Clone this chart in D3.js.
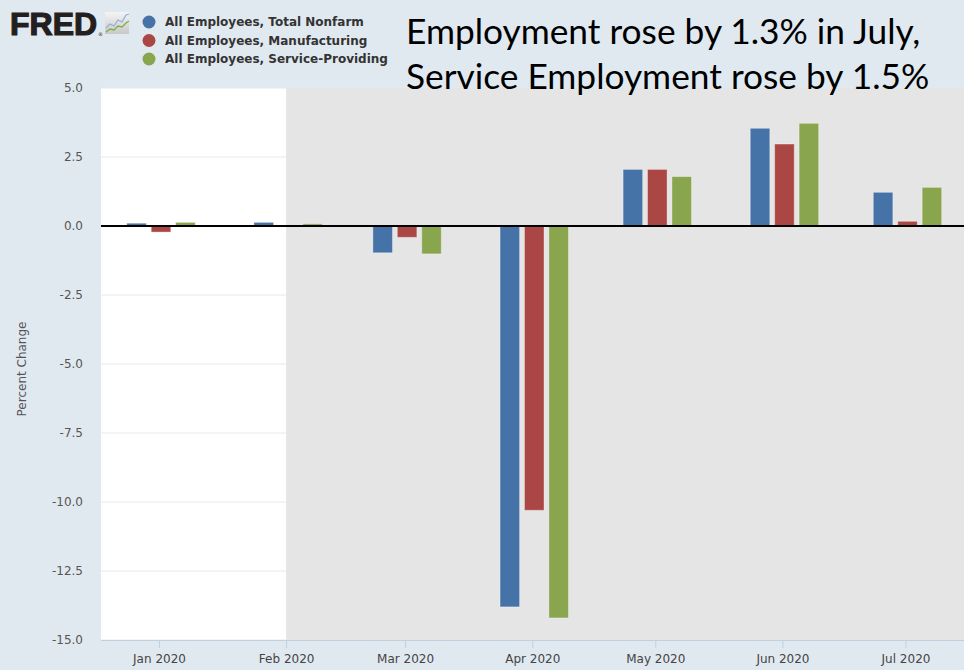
<!DOCTYPE html>
<html>
<head>
<meta charset="utf-8">
<script src="https://cdn.jsdelivr.net/npm/d3@7"></script>
<style>
  html, body { margin: 0; padding: 0; background: #e1e9f0; }
  svg { display: block; }
</style>
</head>
<body>
<svg id="chart"></svg>
<script>
// months (first of month) and series values, percent change
const months = ["2020-01-01", "2020-02-01", "2020-03-01", "2020-04-01", "2020-05-01", "2020-06-01", "2020-07-01"];
const seriesNames = ["All Employees, Total Nonfarm", "All Employees, Manufacturing", "All Employees, Service-Providing"];
const seriesColors = ["#4572a7", "#aa4643", "#89a54e"];
const totalNonfarm = [0.1, 0.13, -0.97, -13.8, 2.05, 3.54, 1.22];
const manufacturing = [-0.22, 0.0, -0.41, -10.3, 2.05, 2.97, 0.17];
const serviceProviding = [0.13, 0.08, -1.01, -14.2, 1.79, 3.72, 1.4];
const yTicks = [5, 2.5, 0, -2.5, -5, -7.5, -10, -12.5, -15];
const recessionStart = "2020-02-01";
const titleLines = ["Employment rose by 1.3% in July,", "Service Employment rose by 1.5%"];

const W = 964, H = 670;
const plot = {left: 101, right: 964, top: 88, bottom: 640};
const parse = d3.timeParse("%Y-%m-%d");

const svg = d3.select("#chart").attr("width", W).attr("height", H);

// time scale: Jan 1 -> 159px, Jul 1 -> 905.5px
const x = d3.scaleTime()
    .domain([parse(months[0]), parse(months[6])])
    .range([159, 905.5]);
const y = d3.scaleLinear().domain([-15, 5]).range([plot.bottom, plot.top]);

const inner = d3.scaleBand().domain(seriesNames).range([-34.2, 34.2]).paddingInner(0.2);

// plot background
svg.append("rect")
    .attr("x", plot.left).attr("y", plot.top)
    .attr("width", plot.right - plot.left).attr("height", plot.bottom - plot.top)
    .attr("fill", "#ffffff");

// grid lines
svg.append("g").selectAll("line")
    .data(yTicks)
    .join("line")
    .attr("x1", plot.left).attr("x2", plot.right)
    .attr("y1", d => y(d)).attr("y2", d => y(d))
    .attr("stroke", "#e8e8e8")
    .attr("stroke-width", 1);

// recession shading
svg.append("rect")
    .attr("x", x(parse(recessionStart))).attr("y", plot.top)
    .attr("width", plot.right - x(parse(recessionStart))).attr("height", plot.bottom - plot.top)
    .attr("fill", "#e5e5e5");

// bars
const barData = [];
const allSeries = [totalNonfarm, manufacturing, serviceProviding];
months.forEach((m, i) => {
    allSeries.forEach((s, j) => {
        barData.push({date: parse(m), series: seriesNames[j], color: seriesColors[j], value: s[i]});
    });
});

svg.append("g").selectAll("rect")
    .data(barData.filter(d => d.value !== 0))
    .join("rect")
    .attr("x", d => x(d.date) + 2 + inner(d.series))
    .attr("width", inner.bandwidth())
    .attr("y", d => y(Math.max(0, d.value)))
    .attr("height", d => Math.abs(y(d.value) - y(0)))
    .attr("fill", d => d.color)
    .attr("stroke", "#ffffff")
    .attr("stroke-opacity", 0.35)
    .attr("stroke-width", 1);

// zero line
svg.append("line")
    .attr("x1", plot.left).attr("x2", plot.right)
    .attr("y1", y(0)).attr("y2", y(0))
    .attr("stroke", "#000000")
    .attr("stroke-width", 2);

// x axis
const xAxis = d3.axisBottom(x)
    .tickValues(months.map(parse))
    .tickFormat(d3.timeFormat("%b %Y"))
    .tickSize(8)
    .tickPadding(6);

const xAxisG = svg.append("g")
    .attr("transform", `translate(0,${plot.bottom})`)
    .call(xAxis);
xAxisG.select(".domain").remove();
xAxisG.append("line")
    .attr("x1", plot.left).attr("x2", plot.right)
    .attr("y1", 0.5).attr("y2", 0.5)
    .attr("stroke", "#c0d0e0");
xAxisG.selectAll(".tick line").attr("stroke", "#c0d0e0");
xAxisG.selectAll(".tick text")
    .attr("fill", "#444")
    .style("font-family", "DejaVu Sans")
    .style("font-size", "12px");

// y axis (plain hyphen for negatives, like the original)
const yAxis = d3.axisLeft(y)
    .tickValues(yTicks)
    .tickFormat(d => d.toFixed(1))
    .tickSize(0)
    .tickPadding(18);

const yAxisG = svg.append("g")
    .attr("transform", `translate(${plot.left},0)`)
    .call(yAxis);
yAxisG.select(".domain").remove();
yAxisG.selectAll(".tick text")
    .attr("fill", "#555")
    .style("font-family", "DejaVu Sans")
    .style("font-size", "12px");

svg.append("text")
    .attr("transform", `translate(26,${(plot.top + plot.bottom) / 2 + 5}) rotate(-90)`)
    .attr("text-anchor", "middle")
    .attr("fill", "#555")
    .style("font-family", "DejaVu Sans")
    .style("font-size", "12px")
    .text("Percent Change");

// FRED logo
svg.append("text")
    .attr("x", 10).attr("y", 35)
    .attr("fill", "#231f20")
    .attr("stroke", "#231f20")
    .attr("stroke-width", 1.2)
    .style("font-family", "Liberation Sans")
    .style("font-weight", "bold")
    .style("font-size", "32px")
    .text("FRED");
svg.append("text")
    .attr("x", 98).attr("y", 36)
    .attr("fill", "#231f20")
    .style("font-family", "DejaVu Sans")
    .style("font-size", "5px")
    .text("®");
const icon = svg.append("g").attr("transform", "translate(105,12)");
const grad = svg.append("defs").append("linearGradient")
    .attr("id", "iconGrad").attr("x1", 0).attr("y1", 0).attr("x2", 0).attr("y2", 1);
grad.append("stop").attr("offset", "0%").attr("stop-color", "#f4f4f4");
grad.append("stop").attr("offset", "100%").attr("stop-color", "#c8c8c8");
icon.append("rect").attr("width", 24).attr("height", 22).attr("fill", "url(#iconGrad)");
icon.append("polyline")
    .attr("points", "1,16 5,12 9,14 13,8 17,10 21,3 24,2")
    .attr("fill", "none").attr("stroke", "#8fb3d9").attr("stroke-width", 1.3);
icon.append("polyline")
    .attr("points", "1,20 5,17 9,18 13,14 17,15 21,11 24,9")
    .attr("fill", "none").attr("stroke", "#7fae4a").attr("stroke-width", 1.3);

// legend
const legend = svg.append("g").attr("transform", "translate(149,22)");
const legendItems = legend.selectAll("g")
    .data(seriesNames)
    .join("g")
    .attr("transform", (d, i) => `translate(0,${i * 18.5})`);
legendItems.append("circle")
    .attr("r", 6.5)
    .attr("fill", (d, i) => seriesColors[i]);
legendItems.append("text")
    .attr("x", 16).attr("dy", "0.35em")
    .attr("fill", "#333")
    .style("font-family", "DejaVu Sans")
    .style("font-weight", "bold")
    .style("font-size", "12px")
    .text(d => d);

// title overlay
svg.append("g").selectAll("text")
    .data(titleLines)
    .join("text")
    .attr("x", 406)
    .attr("y", (d, i) => 44 + i * 45)
    .attr("fill", "#000")
    .style("font-family", "Lato")
    .style("font-size", "35.3px")
    .text(d => d);
</script>
</body>
</html>
